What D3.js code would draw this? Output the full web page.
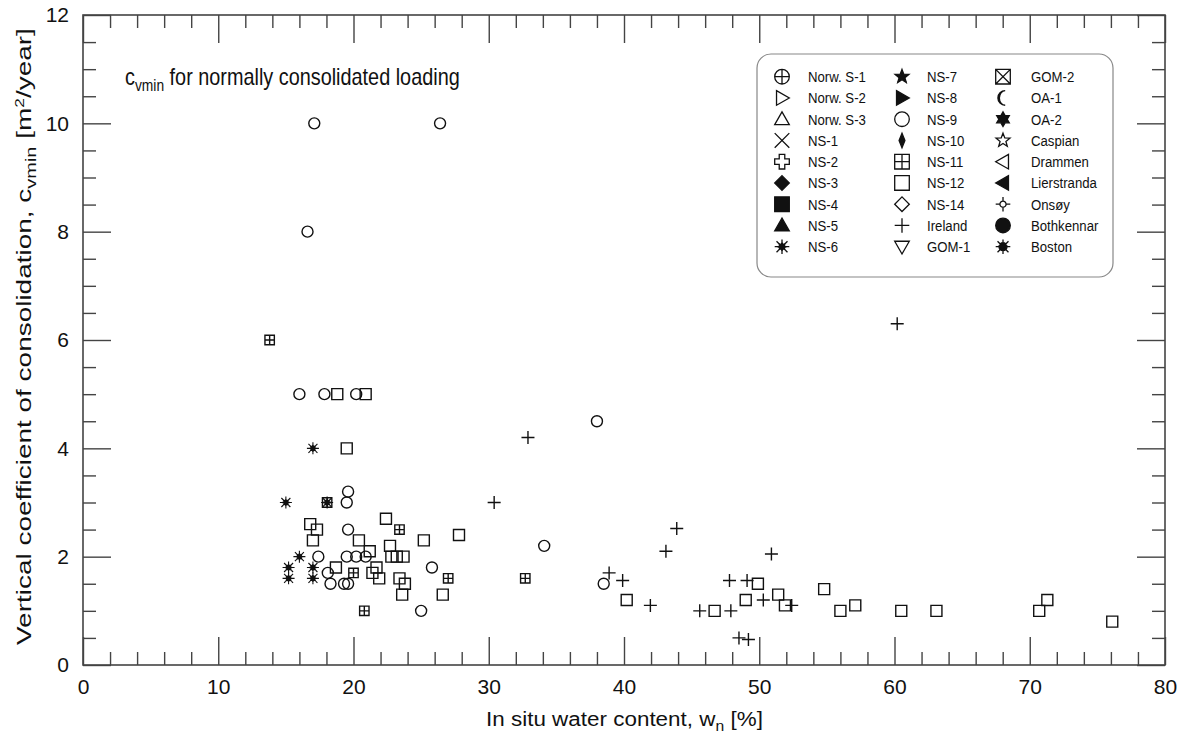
<!DOCTYPE html>
<html>
<head>
<meta charset="utf-8">
<script src="https://cdn.jsdelivr.net/npm/d3@7"></script>
<style>
  body { margin: 0; background: #fff; }
  text { font-family: "Liberation Sans", Arial, sans-serif; fill: #111; }
</style>
</head>
<body>
<svg id="chart" width="1187" height="743"></svg>
<script>
// data: [w_n %, c_vmin m2/year]
const ns9 = [[17.1,10.0],[26.4,10.0],[16.6,8.0],[16.0,5.0],[17.85,5.0],[20.2,5.0],[19.6,3.2],[19.5,3.0],
  [19.6,2.5],[17.4,2.0],[19.5,2.0],[20.2,2.0],[20.9,2.0],[25.8,1.8],[18.1,1.7],[18.3,1.5],[19.3,1.5],
  [19.6,1.5],[25.0,1.0],[38.0,4.5],[34.1,2.2],[38.5,1.5]];
const ns12 = [[18.8,5.0],[20.9,5.0],[19.5,4.0],[22.4,2.7],[16.8,2.6],[17.3,2.5],[17.0,2.3],[20.4,2.3],
  [25.2,2.3],[22.7,2.2],[21.2,2.1],[22.8,2.0],[23.2,2.0],[23.7,2.0],[18.7,1.8],[21.7,1.8],[21.4,1.7],
  [21.9,1.6],[23.4,1.6],[23.8,1.5],[23.6,1.3],[26.6,1.3],[27.8,2.4],[40.2,1.2],[49.9,1.5],[51.4,1.3],
  [54.8,1.4],[49.0,1.2],[51.9,1.1],[57.1,1.1],[56.0,1.0],[46.7,1.0],[60.5,1.0],[63.1,1.0],[71.3,1.2],
  [70.7,1.0],[76.1,0.8]];
const ns11 = [[13.8,6.0],[18.05,3.0],[23.4,2.5],[20.0,1.7],[27.0,1.6],[32.7,1.6],[20.8,1.0]];
const ns6 = [[17.0,4.0],[15.0,3.0],[18.05,3.0],[16.0,2.0],[15.2,1.8],[17.0,1.8],[15.2,1.6],[17.0,1.6]];
const ireland = [[60.2,6.3],[32.9,4.2],[30.4,3.0],[43.9,2.52],[43.1,2.1],[50.9,2.05],[38.9,1.7],
  [39.9,1.56],[47.8,1.56],[49.1,1.56],[50.3,1.2],[52.4,1.1],[41.95,1.1],[45.6,1.0],[47.9,1.0],
  [48.5,0.5],[49.2,0.47]];

const legendNames = ["Norw. S-1","Norw. S-2","Norw. S-3","NS-1","NS-2","NS-3","NS-4","NS-5","NS-6",
  "NS-7","NS-8","NS-9","NS-10","NS-11","NS-12","NS-14","Ireland","GOM-1",
  "GOM-2","OA-1","OA-2","Caspian","Drammen","Lierstranda","Onsøy","Bothkennar","Boston"];
const legendSymbols = ["circlePlus","triRight","triUp","x","openPlus","diamondF","squareF","triUpF","burst",
  "star5F","triRightF","circle","thinDiamondF","squareGrid","square","diamond","plus","triDown",
  "squareX","crescent","star6F","star5","triLeft","triLeftF","onsoy","circleF","boston"];

const xTicks = d3.range(0, 81, 10);
const yTicks = d3.range(0, 13, 2);

const svg = d3.select("#chart");
const x = d3.scaleLinear().domain([0, 80]).range([83, 1165]);
const y = d3.scaleLinear().domain([0, 12]).range([665, 15]);

// symbol shapes, r = half size
function symPath(t, r) {
    let circ = rr => `M${-rr},0A${rr},${rr} 0 1,0 ${rr},0A${rr},${rr} 0 1,0 ${-rr},0Z`;
    let sq = `M${-r},${-r}H${r}V${r}H${-r}Z`;
    let starPts = (n, ro, ri) => {
        let p = [];
        for (let i = 0; i < 2 * n; i++) {
            let a = -Math.PI / 2 + i * Math.PI / n, rad = i % 2 ? ri : ro;
            p.push([rad * Math.cos(a), rad * Math.sin(a)]);
        }
        return "M" + p.map(q => q[0].toFixed(2) + "," + q[1].toFixed(2)).join("L") + "Z";
    };
    switch (t) {
        case "circle": case "circleF": return circ(r);
        case "circlePlus": return circ(r) + `M${-r},0H${r}M0,${-r}V${r}`;
        case "square": case "squareF": return sq;
        case "squareGrid": return sq + `M0,${-r}V${r}M${-r},0H${r}`;
        case "squareX": return sq + `M${-r},${-r}L${r},${r}M${r},${-r}L${-r},${r}`;
        case "triUp": case "triUpF": return `M0,${-r}L${r},${r * 0.75}L${-r},${r * 0.75}Z`;
        case "triDown": return `M0,${r}L${r},${-r * 0.75}L${-r},${-r * 0.75}Z`;
        case "triRight": case "triRightF": return `M${r},0L${-r * 0.75},${r}L${-r * 0.75},${-r}Z`;
        case "triLeft": case "triLeftF": return `M${-r},0L${r * 0.75},${r}L${r * 0.75},${-r}Z`;
        case "diamond": case "diamondF": return `M0,${-r}L${r},0L0,${r}L${-r},0Z`;
        case "thinDiamondF": return `M0,${-r}L${r * 0.4},0L0,${r}L${-r * 0.4},0Z`;
        case "x": return `M${-r},${-r}L${r},${r}M${r},${-r}L${-r},${r}`;
        case "plus": return `M${-r},0H${r}M0,${-r}V${r}`;
        case "openPlus": {
            let a = r * 0.38;
            return `M${-a},${-r}H${a}V${-a}H${r}V${a}H${a}V${r}H${-a}V${a}H${-r}V${-a}H${-a}Z`;
        }
        case "star5": case "star5F": return starPts(5, r, r * 0.42);
        case "star6F": return starPts(6, r, r * 0.58);
        case "crescent":
            return `M${r * 0.3},${-r}A${r},${r} 0 1,0 ${r * 0.3},${r}A${r * 0.8},${r} 0 1,1 ${r * 0.3},${-r}Z`;
        case "onsoy": {
            let c = r * 0.42;
            return circ(c) + `M${-r},0H${-c}M${c},0H${r}M0,${-r}V${-c}M0,${c}V${r}`;
        }
        case "burst": {
            let d = r * 0.75;
            return starPts(8, r * 0.6, r * 0.3) + `M${-r},0H${r}M0,${-r}V${r}M${-d},${-d}L${d},${d}M${d},${-d}L${-d},${d}`;
        }
        case "boston": {
            let d = r * 0.75;
            return circ(r * 0.55) + `M${-r},0H${r}M0,${-r}V${r}M${-d},${-d}L${d},${d}M${d},${-d}L${-d},${d}`;
        }
    }
}
const filled = t => /F$/.test(t) || t === "crescent" || t === "burst" || t === "boston";

// stretch a text node along its own direction so it spans `len` px
function fitText(txt, len) {
    let w = txt.node().getComputedTextLength();
    txt.attr("transform", `scale(${len / w},1)`);
}

// axes with inward ticks on all four sides
const minorX = d3.range(0, 81, 2).filter(v => v % 10 !== 0);
const minorY = d3.range(0, 12.01, 0.5).filter(v => v % 2 !== 0);
const axisColor = "#444";

function addAxis(gen, tr, vals, size, fmt, pad) {
    let g = svg.append("g")
        .attr("transform", tr)
        .call(gen.tickValues(vals).tickSize(-size).tickSizeOuter(0).tickPadding(pad || 10).tickFormat(fmt));
    g.select(".domain").remove();
    g.selectAll("line").attr("stroke", axisColor).attr("stroke-width", 1.4);
    g.selectAll("text").style("font-size", "21px").attr("fill", "#111");
    return g;
}
addAxis(d3.axisBottom(x), "translate(0,665)", xTicks, 28, d3.format("d"), 14);
addAxis(d3.axisBottom(x), "translate(0,665)", minorX, 13, "");
addAxis(d3.axisTop(x), "translate(0,15)", xTicks, 28, "");
addAxis(d3.axisTop(x), "translate(0,15)", minorX, 13, "");
addAxis(d3.axisLeft(y), "translate(83,0)", yTicks, 28, d3.format("d"), 14);
addAxis(d3.axisLeft(y), "translate(83,0)", minorY, 13, "");
addAxis(d3.axisRight(y), "translate(1165,0)", yTicks, 28, "");
addAxis(d3.axisRight(y), "translate(1165,0)", minorY, 13, "");

svg.append("rect")
    .attr("x", 83).attr("y", 15).attr("width", 1082).attr("height", 650)
    .attr("fill", "none").attr("stroke", axisColor).attr("stroke-width", 1.6);

// series
const series = [
    {data: ns9, sym: "circle", r: 5.5},
    {data: ns12, sym: "square", r: 5.5},
    {data: ireland, sym: "plus", r: 6.5},
    {data: ns11, sym: "squareGrid", r: 4.7},
    {data: ns6, sym: "burst", r: 6}
];
series.forEach(s => {
    svg.append("g").selectAll("path")
        .data(s.data)
        .join("path")
        .attr("transform", d => `translate(${x(d[0])},${y(d[1])})`)
        .attr("d", symPath(s.sym, s.r))
        .attr("fill", filled(s.sym) ? "#111" : "none")
        .attr("stroke", "#111")
        .attr("stroke-width", s.sym === "burst" ? 1.1 : 1.4);
});

// title inside plot
let title = svg.append("g").attr("transform", "translate(125,85)")
    .append("text").style("font-size", "23px");
title.append("tspan").text("c");
title.append("tspan").attr("dy", 6).style("font-size", "16px").text("vmin");
title.append("tspan").attr("dy", -6).text(" for normally consolidated loading");
fitText(title, 335);

// legend
const leg = svg.append("g");
leg.append("rect")
    .attr("x", 757).attr("y", 54).attr("width", 356).attr("height", 223)
    .attr("rx", 14).attr("fill", "#fff").attr("stroke", "#888").attr("stroke-width", 1.2);
const colSym = [782, 902, 1003], colText = [808, 927, 1031];
legendNames.forEach((name, i) => {
    let c = Math.floor(i / 9), row = i % 9;
    let yy = 76.7 + row * 21.25;
    let t = legendSymbols[i];
    leg.append("path")
        .attr("transform", `translate(${colSym[c]},${yy})`)
        .attr("d", symPath(t, 7.3))
        .attr("fill", filled(t) ? "#111" : "none")
        .attr("stroke", "#111")
        .attr("stroke-width", 1.3);
    leg.append("g").attr("transform", `translate(${colText[c]},${yy + 5.5})`)
        .append("text")
        .style("font-size", "15px")
        .attr("transform", "scale(0.88,1)")
        .text(name);
});

// axis titles
let xl = svg.append("g").attr("transform", "translate(486,726)")
    .append("text").style("font-size", "20px");
xl.append("tspan").text("In situ water content, w");
xl.append("tspan").attr("dy", 5).style("font-size", "14px").text("n");
xl.append("tspan").attr("dy", -5).text(" [%]");
fitText(xl, 277);

let yl = svg.append("g").attr("transform", "translate(31,645) rotate(-90)")
    .append("text").style("font-size", "21px");
yl.append("tspan").text("Vertical coefficient of consolidation, c");
yl.append("tspan").attr("dy", 5).style("font-size", "15px").text("vmin");
yl.append("tspan").attr("dy", -5).text(" [m");
yl.append("tspan").attr("dy", -7).style("font-size", "13px").text("2");
yl.append("tspan").attr("dy", 7).text("/year]");
fitText(yl, 617);
</script>
</body>
</html>
